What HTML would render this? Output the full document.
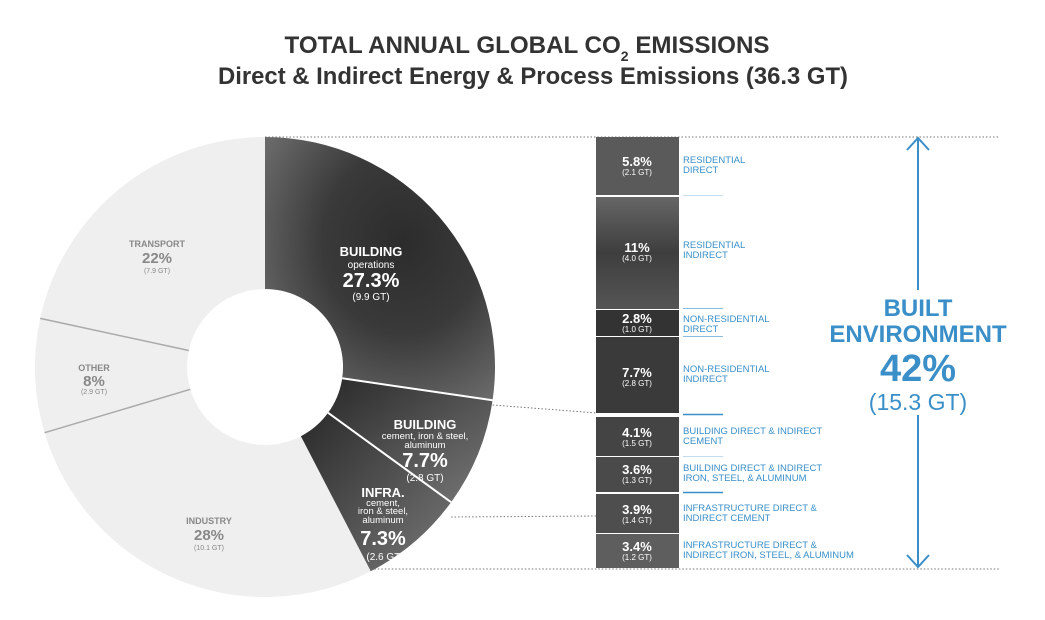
<!DOCTYPE html>
<html><head><meta charset="utf-8"><style>
html,body{margin:0;padding:0;background:#fff;}
svg{display:block;font-family:"Liberation Sans",sans-serif;}
</style></head><body>
<svg width="1045" height="620" viewBox="0 0 1045 620" xmlns="http://www.w3.org/2000/svg">
<defs>
<radialGradient id="g1" cx="0.6" cy="0.4" r="0.7">
<stop offset="0" stop-color="#2c2c2c"/><stop offset="0.5" stop-color="#3a3a3a"/><stop offset="1" stop-color="#6a6a6a"/>
</radialGradient>
<linearGradient id="g2" x1="0" y1="0" x2="0" y2="1">
<stop offset="0" stop-color="#666"/><stop offset="0.5" stop-color="#3e3e3e"/><stop offset="1" stop-color="#555"/>
</linearGradient>
<linearGradient id="g3" x1="0" y1="0" x2="1" y2="1">
<stop offset="0" stop-color="#2a2a2a"/><stop offset="1" stop-color="#777"/>
</linearGradient>
</defs>
<text x="527" y="53" text-anchor="middle" font-size="24" fill="#333" font-weight="bold" textLength="485" lengthAdjust="spacingAndGlyphs">TOTAL ANNUAL GLOBAL CO<tspan font-size="14" dy="8">2</tspan><tspan dy="-8"> EMISSIONS</tspan></text>
<text x="533" y="84" text-anchor="middle" font-size="24" fill="#333" font-weight="bold" textLength="630" lengthAdjust="spacingAndGlyphs">Direct &amp; Indirect Energy &amp; Process Emissions (36.3 GT)</text>

<!-- light segments -->
<path d="M44.6,432.7 A230,230 0 0 1 40.2,318.4 A230,230 0 0 1 265,137 L265,289 A78,78 0 0 0 188.8,350.5 A78,78 0 0 0 190.3,389.3 Z" fill="#efefef"/>
<path d="M370.8,571.2 A230,230 0 0 1 44.6,432.7 L190.3,389.3 A78,78 0 0 0 300.9,436.2 Z" fill="#efefef"/>
<line x1="40.2" y1="318.4" x2="188.8" y2="350.5" stroke="#aaa" stroke-width="1.5"/>
<line x1="44.6" y1="432.7" x2="190.3" y2="389.3" stroke="#aaa" stroke-width="1.5"/>
<!-- dark segments -->
<path d="M265,137 A230,230 0 0 1 492.6,400.2 L342.2,378.3 A78,78 0 0 0 265,289 Z" fill="url(#g1)"/>
<path d="M492.6,400.2 A230,230 0 0 1 451.1,502.2 L328.1,412.8 A78,78 0 0 0 342.2,378.3 Z" fill="url(#g3)"/>
<path d="M451.1,502.2 A230,230 0 0 1 370.8,571.2 L300.9,436.2 A78,78 0 0 0 328.1,412.8 Z" fill="url(#g3)"/>
<line x1="492.6" y1="400.2" x2="342.2" y2="378.3" stroke="#fff" stroke-width="2"/>
<line x1="451.1" y1="502.2" x2="328.1" y2="412.8" stroke="#fff" stroke-width="2"/>

<!-- dotted connectors -->
<g stroke="#777" stroke-width="1" stroke-dasharray="1.5,2" fill="none">
<line x1="265" y1="137" x2="1000" y2="137"/>
<line x1="492.6" y1="405" x2="597" y2="413"/>
<line x1="451.1" y1="517" x2="597" y2="516"/>
<line x1="370.8" y1="569" x2="1000" y2="569"/>
</g>

<!-- donut labels -->
<g text-anchor="middle" fill="#fff">
<text x="371" y="256" font-size="13" font-weight="bold">BUILDING</text>
<text x="371" y="268" font-size="10">operations</text>
<text x="371" y="287" font-size="20" font-weight="bold">27.3%</text>
<text x="371" y="300" font-size="10">(9.9 GT)</text>
<text x="425" y="429" font-size="13" font-weight="bold">BUILDING</text>
<text x="425" y="439" font-size="9.5">cement, iron &amp; steel,</text>
<text x="425" y="448" font-size="9.5">aluminum</text>
<text x="425" y="467" font-size="20" font-weight="bold">7.7%</text>
<text x="425" y="481" font-size="10">(2.8 GT)</text>
<text x="383" y="497" font-size="13" font-weight="bold">INFRA.</text>
<text x="383" y="506" font-size="9.5">cement,</text>
<text x="383" y="514" font-size="9.5">iron &amp; steel,</text>
<text x="383" y="523" font-size="9.5">aluminum</text>
<text x="383" y="545" font-size="20" font-weight="bold">7.3%</text>
<text x="385" y="560" font-size="10">(2.6 GT)</text>
</g>
<g text-anchor="middle" fill="#888">
<text x="157" y="247" font-size="9" font-weight="bold">TRANSPORT</text>
<text x="157" y="263" font-size="15" font-weight="bold">22%</text>
<text x="157" y="273" font-size="7">(7.9 GT)</text>
<text x="94" y="371" font-size="9" font-weight="bold">OTHER</text>
<text x="94" y="386" font-size="15" font-weight="bold">8%</text>
<text x="94" y="394" font-size="7">(2.9 GT)</text>
<text x="209" y="524" font-size="9" font-weight="bold">INDUSTRY</text>
<text x="209" y="540" font-size="15" font-weight="bold">28%</text>
<text x="209" y="550" font-size="7">(10.1 GT)</text>
</g>

<!-- bars -->
<rect x="596" y="137" width="83" height="58" fill="#5a5a5a"/>
<rect x="596" y="197" width="83" height="112" fill="url(#g2)"/>
<rect x="596" y="310" width="83" height="26" fill="#333"/>
<rect x="596" y="337" width="83" height="76" fill="#3a3a3a"/>
<rect x="596" y="417" width="83" height="39" fill="#444"/>
<rect x="596" y="457" width="83" height="35" fill="#4a4a4a"/>
<rect x="596" y="494" width="83" height="39" fill="#4e4e4e"/>
<rect x="596" y="534" width="83" height="34" fill="#5e5e5e"/>
<g text-anchor="middle" fill="#fff">
<text x="637" y="166" font-size="13" font-weight="bold">5.8%</text><text x="637" y="175" font-size="8">(2.1 GT)</text>
<text x="637" y="252" font-size="13" font-weight="bold">11%</text><text x="637" y="261" font-size="8">(4.0 GT)</text>
<text x="637" y="323" font-size="13" font-weight="bold">2.8%</text><text x="637" y="332" font-size="8">(1.0 GT)</text>
<text x="637" y="377" font-size="13" font-weight="bold">7.7%</text><text x="637" y="386" font-size="8">(2.8 GT)</text>
<text x="637" y="437" font-size="13" font-weight="bold">4.1%</text><text x="637" y="446" font-size="8">(1.5 GT)</text>
<text x="637" y="474" font-size="13" font-weight="bold">3.6%</text><text x="637" y="483" font-size="8">(1.3 GT)</text>
<text x="637" y="514" font-size="13" font-weight="bold">3.9%</text><text x="637" y="523" font-size="8">(1.4 GT)</text>
<text x="637" y="551" font-size="13" font-weight="bold">3.4%</text><text x="637" y="560" font-size="8">(1.2 GT)</text>
</g>
<g fill="#3a8fc8" font-size="9.5">
<text x="683" y="163">RESIDENTIAL</text><text x="683" y="173">DIRECT</text>
<text x="683" y="248">RESIDENTIAL</text><text x="683" y="258">INDIRECT</text>
<text x="683" y="322">NON-RESIDENTIAL</text><text x="683" y="332">DIRECT</text>
<text x="683" y="372">NON-RESIDENTIAL</text><text x="683" y="382">INDIRECT</text>
<text x="683" y="434">BUILDING DIRECT &amp; INDIRECT</text><text x="683" y="444">CEMENT</text>
<text x="683" y="471">BUILDING DIRECT &amp; INDIRECT</text><text x="683" y="481">IRON, STEEL, &amp; ALUMINUM</text>
<text x="683" y="511">INFRASTRUCTURE DIRECT &amp;</text><text x="683" y="521">INDIRECT CEMENT</text>
<text x="683" y="548">INFRASTRUCTURE DIRECT &amp;</text><text x="683" y="558">INDIRECT IRON, STEEL, &amp; ALUMINUM</text>
</g>
<g stroke="#3a8fc8">
<line x1="683" y1="195.5" x2="723" y2="195.5" stroke-opacity="0.3"/>
<line x1="683" y1="308.5" x2="723" y2="308.5" stroke-opacity="0.6"/>
<line x1="683" y1="336.5" x2="723" y2="336.5" stroke-opacity="0.6"/>
<line x1="683" y1="414.5" x2="723" y2="414.5" stroke-width="1.5"/>
<line x1="683" y1="456.5" x2="723" y2="456.5" stroke-opacity="0.3"/>
<line x1="683" y1="492.5" x2="723" y2="492.5" stroke-width="1.5"/>
</g>
<!-- arrow -->
<g stroke="#3a8fc8" stroke-width="2" fill="none">
<line x1="918" y1="138" x2="918" y2="290"/>
<line x1="918" y1="415" x2="918" y2="567"/>
<polyline points="907,150 918,138 929,150"/>
<polyline points="907,555 918,567 929,555"/>
</g>
<g text-anchor="middle" fill="#3a8fc8">
<text x="918" y="316" font-size="24" font-weight="bold">BUILT</text>
<text x="918" y="342" font-size="24" font-weight="bold">ENVIRONMENT</text>
<text x="918" y="381" font-size="38" font-weight="bold">42%</text>
<text x="918" y="410" font-size="23">(15.3 GT)</text>
</g>
</svg>
</body></html>
